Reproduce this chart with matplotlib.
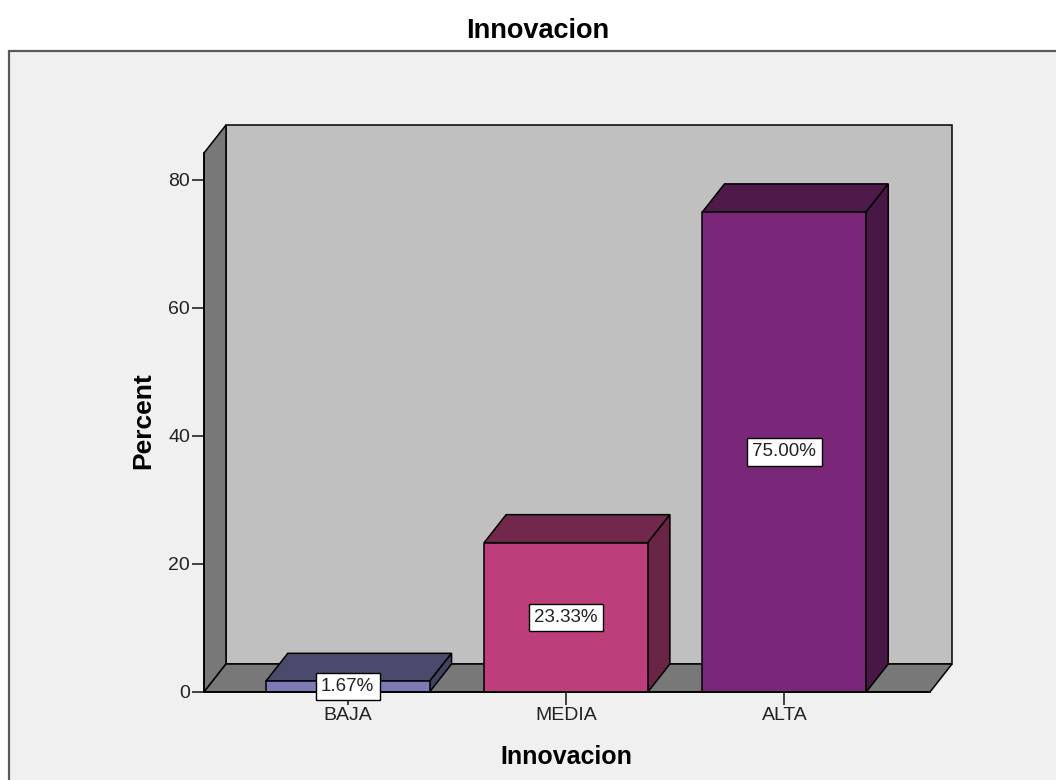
import matplotlib
matplotlib.use("Agg")
import matplotlib.pyplot as plt
from matplotlib.patches import Polygon, Rectangle

plt.rcParams['font.family'] = ['Liberation Sans', 'DejaVu Sans']

categories = ['BAJA', 'MEDIA', 'ALTA']
percents = [1.67, 23.33, 75.00]
front_colors = ['#7d7bb4', '#bc3f7c', '#7b2779']
top_colors = ['#4a4a6c', '#72284c', '#4e1a4a']
side_colors = ['#424262', '#692446', '#481746']

y_ticks = [0, 20, 40, 60, 80]
y_max = 84.2
x_lo, x_hi = -0.658, 2.667
bar_w = 0.75

W, H = 1056, 780
fig = plt.figure(figsize=(W / 100, H / 100), dpi=100, facecolor='white')

# light grey panel with a dark border, running off the right and bottom edges
fig.patches.append(Rectangle((9 / W, -0.1), 1.2, 1.1 - 51 / H,
                             transform=fig.transFigure, facecolor='#f0f0f0',
                             edgecolor='#5a5a5a', linewidth=1.6, zorder=-10))

# front plane of the 3D box: x 204..930 px, y 692..153 px
ax = fig.add_axes([204 / W, 1 - 692 / H, (930 - 204) / W, (692 - 153) / H])
ax.patch.set_visible(False)
ax.set_xlim(x_lo, x_hi)
ax.set_ylim(0, y_max)

# depth offset of the box, in data units (22 px right, 28 px up)
px_x = (x_hi - x_lo) / (930 - 204)
px_y = y_max / (692 - 153)
dx, dy = 22 * px_x, 28 * px_y

edge = dict(edgecolor='black', linewidth=1.1, clip_on=False, joinstyle='miter')

# back wall
ax.add_patch(Polygon([(x_lo + dx, dy), (x_hi + dx, dy), (x_hi + dx, y_max + dy),
                      (x_lo + dx, y_max + dy)], facecolor='#c0c0c0', **edge))
# left wall
ax.add_patch(Polygon([(x_lo, 0), (x_lo + dx, dy), (x_lo + dx, y_max + dy),
                      (x_lo, y_max)], facecolor='#787878', **edge))
# floor
ax.add_patch(Polygon([(x_lo, 0), (x_hi, 0), (x_hi + dx, dy), (x_lo + dx, dy)],
                     facecolor='#787878', **edge))

for i, v in enumerate(percents):
    x0, x1 = i - bar_w / 2, i + bar_w / 2
    ax.add_patch(Polygon([(x0, v), (x1, v), (x1 + dx, v + dy), (x0 + dx, v + dy)],
                         facecolor=top_colors[i], zorder=2, **edge))
    ax.add_patch(Polygon([(x1, 0), (x1 + dx, dy), (x1 + dx, v + dy), (x1, v)],
                         facecolor=side_colors[i], zorder=2, **edge))
    ax.add_patch(Rectangle((x0, 0), bar_w, v, facecolor=front_colors[i],
                           zorder=2, **edge))
    ax.text(i, v / 2, f'{v:.2f}%', ha='center', va='center', fontsize=13.5,
            color='#222222', zorder=6,
            bbox=dict(boxstyle='square,pad=0.28', facecolor='white',
                      edgecolor='black', linewidth=1.0))

for side in ['top', 'right']:
    ax.spines[side].set_visible(False)
for side in ['left', 'bottom']:
    ax.spines[side].set_linewidth(1.2)
    ax.spines[side].set_zorder(5)

ax.set_xticks(range(len(categories)))
ax.set_xticklabels(categories)
ax.set_yticks(y_ticks)
ax.tick_params(axis='both', length=9, width=1.2, labelsize=14,
               labelcolor='#222222', color='#222222')
ax.tick_params(axis='x', pad=2)
ax.tick_params(axis='y', pad=1)

ax.set_xlabel('Innovacion', fontsize=18, fontweight='bold')
ax.xaxis.set_label_coords((566 - 204) / (930 - 204), (692 - 757) / (692 - 153))
ax.xaxis.label.set_va('center')
ax.set_ylabel('Percent', fontsize=19, fontweight='bold')
ax.yaxis.set_label_coords((143 - 204) / (930 - 204), (692 - 421) / (692 - 153))
ax.yaxis.label.set_va('center')

fig.text(538 / W, 1 - 31 / H, 'Innovacion', ha='center', va='center',
         fontsize=19.5, fontweight='bold')

fig.savefig('out.png', dpi=100)
